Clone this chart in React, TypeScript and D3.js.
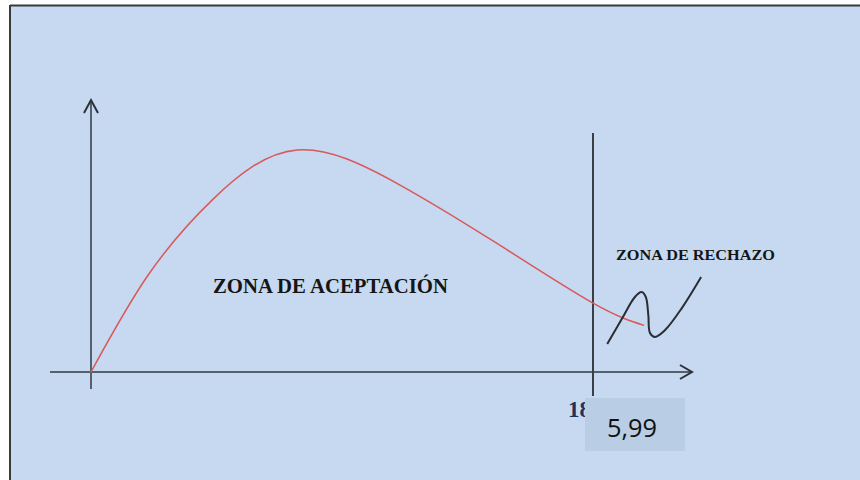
import React from "react";
import * as d3 from "d3";

// Chi-square style density curve (x in statistic units, y relative density)
const curveX = [0, 0.67, 1.46, 2.46, 3.65, 4.84, 5.99, 6.6];
const curveY = [0, 0.43, 0.78, 1.0, 0.85, 0.58, 0.31, 0.21];

// Hand-drawn squiggle in the rejection zone
const squiggleX = [6.16, 6.34, 6.49, 6.57, 6.62, 6.65, 6.67, 6.73, 6.85, 7.05, 7.28];
const squiggleY = [0.126, 0.243, 0.338, 0.36, 0.338, 0.257, 0.176, 0.158, 0.189, 0.288, 0.428];

const criticalValue = 5.99;
const criticalLabel = "5,99";
const hiddenLabel = "18";
const acceptLabel = "ZONA DE ACEPTACIÓN";
const rejectLabel = "ZONA DE RECHAZO";

const W = 860;
const H = 480;

export default function App() {
  const x = d3.scaleLinear().domain([0, criticalValue]).range([91, 593]);
  const y = d3.scaleLinear().domain([0, 1]).range([372, 150]);

  const curveLine = d3
    .line<[number, number]>()
    .x((d) => x(d[0]))
    .y((d) => y(d[1]))
    .curve(d3.curveNatural);

  const squiggleLine = d3
    .line<[number, number]>()
    .x((d) => x(d[0]))
    .y((d) => y(d[1]))
    .curve(d3.curveCatmullRom.alpha(0.5));

  const curvePts: [number, number][] = curveX.map((v, i) => [v, curveY[i]]);
  const squigglePts: [number, number][] = squiggleX.map((v, i) => [v, squiggleY[i]]);

  const x0 = x(0);
  const y0 = y(0);
  const xc = x(criticalValue);

  const axisColor = "#56606c";
  const serif = "'Liberation Serif', 'DejaVu Serif', serif";

  return (
    <svg
      width={W}
      height={H}
      viewBox={`0 0 ${W} ${H}`}
      style={{ position: "absolute", left: 0, top: 0, background: "#ffffff" }}
    >
      <rect x={10} y={6} width={W} height={H} fill="#c6d9f0" />
      <line x1={10} y1={5.5} x2={W} y2={5.5} stroke="#3a3a3a" strokeWidth={2} />
      <line x1={10} y1={5} x2={10} y2={H} stroke="#3a3a3a" strokeWidth={2} />

      {/* x axis */}
      <line x1={50} y1={y0} x2={692} y2={y0} stroke={axisColor} strokeWidth={2} />
      <path
        d={`M${680},${y0 - 7} L${692},${y0} L${680},${y0 + 7}`}
        fill="none"
        stroke="#2c3138"
        strokeWidth={2}
      />
      {/* y axis */}
      <line x1={x0} y1={389} x2={x0} y2={100} stroke={axisColor} strokeWidth={2} />
      <path
        d={`M${x0 - 7},${113} L${x0},${100} L${x0 + 7},${113}`}
        fill="none"
        stroke="#2c3138"
        strokeWidth={2}
      />

      {/* critical value line */}
      <line x1={xc} y1={133} x2={xc} y2={396} stroke="#3a3f46" strokeWidth={2} />

      {/* density curve */}
      <path d={curveLine(curvePts) || ""} fill="none" stroke="#d9585a" strokeWidth={1.5} />

      {/* squiggle */}
      <path d={squiggleLine(squigglePts) || ""} fill="none" stroke="#2a2d33" strokeWidth={2} />

      <text
        x={213}
        y={293}
        fontFamily={serif}
        fontWeight="bold"
        fontSize={20}
        fill="#151515"
        textLength={235}
        lengthAdjust="spacingAndGlyphs"
      >
        {acceptLabel}
      </text>
      <text
        x={616}
        y={260}
        fontFamily={serif}
        fontWeight="bold"
        fontSize={15}
        fill="#151515"
        textLength={159}
        lengthAdjust="spacingAndGlyphs"
      >
        {rejectLabel}
      </text>

      {/* partially hidden label */}
      <text x={568} y={417} fontFamily={serif} fontWeight="bold" fontSize={23} fill="#27305a">
        {hiddenLabel}
      </text>

      {/* critical value box */}
      <rect x={585} y={398} width={100} height={53} fill="#b9cde4" />
      <text
        x={632}
        y={437}
        textAnchor="middle"
        fontFamily="'Open Sans', 'Liberation Sans', sans-serif"
        fontSize={26}
        fill="#111111"
        textLength={50}
        lengthAdjust="spacingAndGlyphs"
      >
        {criticalLabel}
      </text>
    </svg>
  );
}
